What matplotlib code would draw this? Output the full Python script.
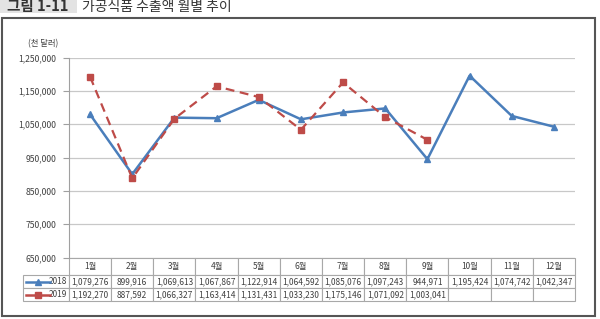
import matplotlib
matplotlib.use("Agg")
import matplotlib.pyplot as plt
from matplotlib.patches import Rectangle
from matplotlib.lines import Line2D
from matplotlib.ticker import FuncFormatter

plt.rcParams['font.family'] = ['Noto Sans CJK KR', 'DejaVu Sans']

# ===== 데이터 =====
months = ['1월', '2월', '3월', '4월', '5월', '6월', '7월', '8월', '9월', '10월', '11월', '12월']
v2018 = [1079276, 899916, 1069613, 1067867, 1122914, 1064592,
         1085076, 1097243, 944971, 1195424, 1074742, 1042347]
v2019 = [1192270, 887592, 1066327, 1163414, 1131431, 1033230,
         1175146, 1071092, 1003041]
yticks = [650000, 750000, 850000, 950000, 1050000, 1150000, 1250000]

blue = '#4A7EBB'
red = '#BE4B48'
txt = '#404040'
grid = '#C8C8C8'

fig = plt.figure(figsize=(6, 3.19), dpi=100)

# 바깥 테두리 + 제목
fig.patches.append(Rectangle((2/600, 1 - 316/319), 593/600, 298/319,
                             transform=fig.transFigure, fill=False,
                             edgecolor='#555555', lw=1.5))
fig.patches.append(Rectangle((0, 1 - 13/319), 77/600, 13/319,
                             transform=fig.transFigure, color='#E3E3E3', lw=0))
fig.text(7/600, 1 - 11/319, '그림 1-11', fontsize=10.5, fontweight='bold',
         color='#333333', va='baseline', ha='left')
fig.text(82/600, 1 - 11/319, '가공식품 수출액 월별 추이', fontsize=10,
         color='#333333', va='baseline', ha='left')

ax = fig.add_axes([69/600, 1 - 257.5/319, 506/600, 200/319])
x = list(range(len(months)))

ax.plot(x, v2018, color=blue, lw=1.8, marker='^', ms=5, zorder=3)
ax.plot(x[:len(v2019)], v2019, color=red, lw=1.6, ls=(0, (4, 2.5)),
        marker='s', ms=4.5, zorder=4)

ax.set_xlim(-0.5, len(months) - 0.5)
ax.set_ylim(yticks[0], yticks[-1])
ax.set_yticks(yticks)
ax.yaxis.set_major_formatter(FuncFormatter(lambda v, p: f'{int(v):,}'))
ax.grid(axis='y', color=grid, lw=0.9)
ax.set_axisbelow(True)
for s in ['top', 'right', 'bottom']:
    ax.spines[s].set_visible(False)
ax.spines['left'].set_color('#A0A0A0')
ax.tick_params(axis='y', length=4, color='#A0A0A0', labelsize=6.2,
               labelcolor=txt, pad=5)
ax.tick_params(axis='x', bottom=False, labelbottom=False)
ax.text(-0.022, 1.07, '(천 달러)', transform=ax.transAxes, fontsize=6,
        color=txt, ha='right', va='center')

# ===== 데이터 테이블 =====
def fmt(v):
    return f'{v:,}'

cells = [[''] + months,
         ['2018'] + [fmt(v) for v in v2018],
         ['2019'] + [fmt(v) for v in v2019] + [''] * (len(months) - len(v2019))]
w0 = 46 / 506
h = 43.5 / 200
tbl = ax.table(cellText=cells, cellLoc='center',
               colWidths=[46] + [506 / 12] * 12,
               bbox=[-w0, -h, 1 + w0, h])
tbl.auto_set_font_size(False)
tbl.set_fontsize(6)
for (r, c), cell in tbl.get_celld().items():
    cell.set_edgecolor('#A8A8A8')
    cell.set_linewidth(0.8)
    cell.get_text().set_color(txt)
    cell.set_height(17.5 if r == 0 else 13)
    if c == 0:
        cell._loc = 'right'
        cell.PAD = 0.04
        cell.get_text().set_ha('right')
tbl[0, 0].visible_edges = ''

# 범례 표시 (표 안)
for yy, col, mk in [(-(17.5 + 6.5) / 200, blue, '^'),
                    (-(17.5 + 19.5) / 200, red, 's')]:
    ax.add_line(Line2D([-0.085, -0.038], [yy, yy], color=col, lw=1.8,
                       transform=ax.transAxes, clip_on=False))
    ax.add_line(Line2D([-0.061], [yy], color=col, marker=mk, ms=4.5,
                       transform=ax.transAxes, clip_on=False))

fig.savefig('out.png', dpi=100)
